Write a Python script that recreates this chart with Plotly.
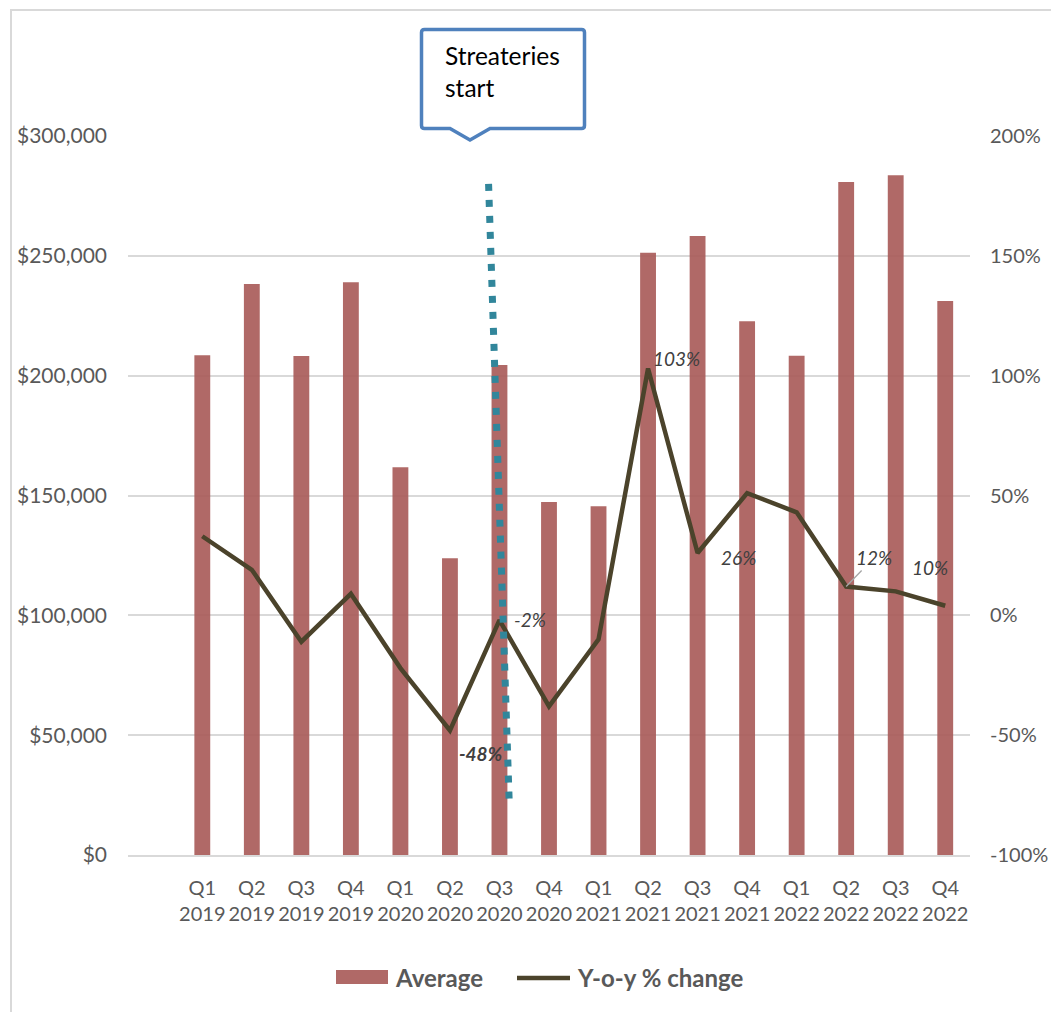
import plotly.graph_objects as go

# ---------------- data ----------------
quarters = ["Q1", "Q2", "Q3", "Q4"] * 4
years = ["2019"] * 4 + ["2020"] * 4 + ["2021"] * 4 + ["2022"] * 4
categories = [f"{q}<br>{y}" for q, y in zip(quarters, years)]

average = [208500, 238250, 208200, 238950,
           161800, 123800, 204450, 147300,
           145500, 251300, 258300, 222700,
           208300, 280800, 283600, 231150]

yoy_change = [33, 19, -11, 9,
              -22, -48, -2, -38,
              -10, 103, 26, 51,
              43, 12, 10, 4]

series_names = ["Average", "Y-o-y % change"]
labelled_points = [5, 6, 9, 10, 13, 14]   # indices whose Y-o-y value is labelled
event_index = 6                             # "Streateries start" quarter (Q3 2020)
event_text = "Streateries<br>start"

left_ticks = [0, 50000, 100000, 150000, 200000, 250000, 300000]
right_ticks = [-100, -50, 0, 50, 100, 150, 200]

# ---------------- layout geometry ----------------
W, H = 1051, 1012
ML, MR, MT, MB = 128, 81, 136, 157
PW, PH = W - ML - MR, H - MT - MB


def px(xp):
    return (xp - ML) / PW


def py(yp):
    return (H - MB - yp) / PH


BAR_COLOR = "rgba(167,89,87,0.9)"
LINE_COLOR = "#4B432B"
TEXT_GREY = "#595959"
LABEL_GREY = "#404040"
FONT = "Lato"

fig = go.Figure()
fig.add_trace(go.Bar(
    x=categories, y=average, name=series_names[0],
    marker=dict(color=BAR_COLOR, line=dict(width=0)),
    width=0.32, yaxis="y", showlegend=False,
))
fig.add_trace(go.Scatter(
    x=categories, y=yoy_change, name=series_names[1],
    mode="lines", line=dict(color=LINE_COLOR, width=4.5),
    yaxis="y2", showlegend=False,
))

# ---------------- data labels ----------------
label_offsets = {
    5: dict(xshift=31, yshift=-23, bold=True),
    6: dict(xshift=31, yshift=1),
    9: dict(xshift=28, yshift=10),
    10: dict(xshift=41, yshift=-4),
    13: dict(xshift=28, yshift=29, arrow=True),
    14: dict(xshift=34, yshift=24),
}
annotations = []
for i in labelled_points:
    o = label_offsets[i]
    txt = f"{yoy_change[i]:.0f}%"
    font = dict(family=FONT, size=19, color=LABEL_GREY, style="italic",
                weight="bold" if o.get("bold") else "normal")
    if o.get("arrow"):
        annotations.append(dict(
            x=categories[i], y=yoy_change[i], xref="x", yref="y2",
            text=txt, showarrow=True, ax=o["xshift"], ay=-o["yshift"],
            arrowhead=0, arrowwidth=1.3, arrowcolor="#A6A6A6", standoff=0,
            font=font,
        ))
    else:
        annotations.append(dict(
            x=categories[i], y=yoy_change[i], xref="x", yref="y2",
            text=txt, showarrow=False, xshift=o["xshift"], yshift=o["yshift"],
            font=font,
        ))

# callout text
annotations.append(dict(
    x=px(443), y=py(72), xref="paper", yref="paper",
    xanchor="left", yanchor="middle", align="left",
    text=event_text, showarrow=False,
    font=dict(family=FONT, size=24.5, color="#000000"),
))

# custom legend text
legend_font = dict(family=FONT, size=24, color=TEXT_GREY, weight="bold")
annotations.append(dict(x=px(393), y=py(977), xref="paper", yref="paper",
                        xanchor="left", yanchor="middle", showarrow=False,
                        text=series_names[0], font=legend_font))
annotations.append(dict(x=px(575), y=py(977), xref="paper", yref="paper",
                        xanchor="left", yanchor="middle", showarrow=False,
                        text=series_names[1], font=legend_font))

# ---------------- shapes ----------------
L, R, T, B = 421.5, 584.5, 29.5, 128.5
r = 3
pts = [
    ("M", L + r, T), ("L", R - r, T), ("Q", R, T, R, T + r), ("L", R, B - r),
    ("Q", R, B, R - r, B), ("L", 490, B), ("L", 470, 140), ("L", 450, B),
    ("L", L + r, B), ("Q", L, B, L, B - r), ("L", L, T + r), ("Q", L, T, L + r, T),
]
path = ""
for p in pts:
    if p[0] == "Q":
        path += f"Q{px(p[1])},{py(p[2])} {px(p[3])},{py(p[4])} "
    else:
        path += f"{p[0]}{px(p[1])},{py(p[2])} "
path += "Z"

shapes = [
    # chart area border (left & top visible)
    dict(type="rect", xref="paper", yref="paper",
         x0=px(11), x1=px(1070), y0=py(1030), y1=py(10),
         line=dict(color="#D9D9D9", width=2), layer="below"),
    # callout
    dict(type="path", xref="paper", yref="paper", path=path,
         fillcolor="white", line=dict(color="#4F81BD", width=3.5)),
    # dotted event marker
    dict(type="line", xref="x", yref="y",
         x0=event_index - 0.22, y0=280000, x1=event_index + 0.2, y1=20000,
         line=dict(color="#31869B", width=7, dash="7px,9px")),
    # legend swatches
    dict(type="rect", xref="paper", yref="paper",
         x0=px(336), x1=px(388), y0=py(984), y1=py(970),
         fillcolor=BAR_COLOR, line=dict(width=0)),
    dict(type="line", xref="paper", yref="paper",
         x0=px(517), x1=px(570), y0=py(978), y1=py(978),
         line=dict(color=LINE_COLOR, width=4.5)),
]

fig.update_layout(
    width=W, height=H,
    margin=dict(l=ML, r=MR, t=MT, b=MB, autoexpand=False),
    paper_bgcolor="white", plot_bgcolor="white",
    font=dict(family=FONT, color=TEXT_GREY, size=20),
    showlegend=False,
    xaxis=dict(type="category", range=[-1.5, 15.5], showgrid=False,
               showline=True, linecolor="#D9D9D9", linewidth=1.5,
               ticks="", tickfont=dict(size=20, color=TEXT_GREY),
               ticklabelstandoff=14, zeroline=False, automargin=False),
    yaxis=dict(range=[0, 300000], tickvals=left_ticks,
               ticktext=[f"${v:,.0f}" for v in left_ticks],
               showgrid=True, gridcolor="#D9D9D9", gridwidth=1.5,
               zeroline=False, ticks="", ticklabelstandoff=20, automargin=False,
               tickfont=dict(size=21, color=TEXT_GREY)),
    yaxis2=dict(range=[-100, 200], tickvals=right_ticks,
                ticktext=[f"{v}%" for v in right_ticks],
                overlaying="y", side="right", showgrid=False, automargin=False,
                zeroline=False, ticks="", ticklabelstandoff=19,
                tickfont=dict(size=20, color=TEXT_GREY)),
    annotations=annotations,
    shapes=shapes,
    bargap=0.68,
)

fig.write_html("out.html")
